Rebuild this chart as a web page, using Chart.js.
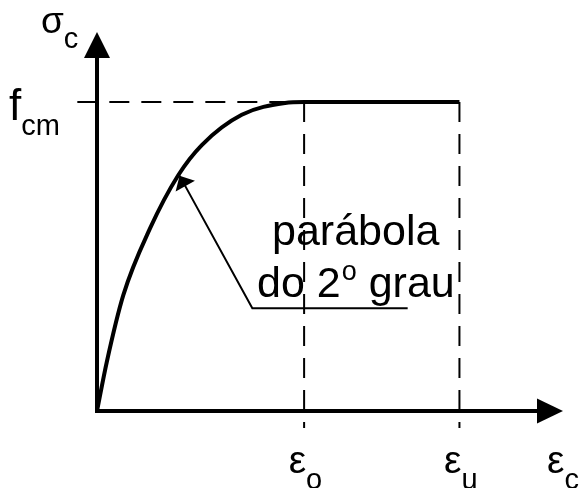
<!DOCTYPE html>
<html lang="pt">
<head>
<meta charset="utf-8">
<title>Diagrama tensão-deformação do concreto</title>
<script src="https://cdn.jsdelivr.net/npm/chart.js@4.4.1/dist/chart.umd.min.js"></script>
<style>
    body { margin: 0; background: #fff; }
    #caixa { width: 581px; height: 488px; position: relative; }
</style>
</head>
<body>
<div id="caixa"><canvas id="graficoTensao"></canvas></div>
<script>
// deformação (‰) e tensão relativa (σc / fcm) lidas ao longo da curva
const deformacoes = [0, 0.094, 0.254, 0.512, 0.786, 1.012, 1.398, 1.816, 2.0, 3.5];
const tensoes = [0, 0.158, 0.375, 0.591, 0.764, 0.861, 0.959, 0.997, 1.0, 1.0];

// marcas do eixo horizontal (εo e εu) e nível fcm
const valoresEixoX = [2.0, 3.5];
const rotulosEixoX = [['ε', 'o'], ['ε', 'u']];
const nivelFcm = 1.0;

// limites dos eixos (ponta das setas)
const fimEixoX = 4.5;
const fimEixoY = 1.227;

// linha de chamada da legenda "parábola do 2º grau"
const chamadaX = [3.0, 1.5, 0.797];
const chamadaY = [0.333, 0.333, 0.762];

const FONTE = '"Liberation Sans", Arial, sans-serif';

function pontos(xs, ys) {
    return xs.map((x, i) => ({ x: x, y: ys[i] }));
}

// desenha uma seta preenchida com ponta em (px, py) apontando na direção (dx, dy)
function seta(ctx, px, py, dx, dy, comp, larg) {
    const n = Math.hypot(dx, dy);
    dx /= n; dy /= n;
    const bx = px - dx * comp, by = py - dy * comp;
    ctx.beginPath();
    ctx.moveTo(px, py);
    ctx.lineTo(bx - dy * larg / 2, by + dx * larg / 2);
    ctx.lineTo(bx + dy * larg / 2, by - dx * larg / 2);
    ctx.closePath();
    ctx.fill();
}

// símbolo com índice (ex.: εo)
function simbolo(ctx, base, indice, x, y, tamBase, tamInd, yInd, alinhar) {
    ctx.font = tamBase + 'px ' + FONTE;
    const wb = ctx.measureText(base).width;
    const xb = alinhar === 'right' ? x - wb : x;
    ctx.fillText(base, xb, y);
    ctx.font = tamInd + 'px ' + FONTE;
    ctx.fillText(indice, xb + wb, yInd);
}

const desenhoPlugin = {
    id: 'desenho',
    afterDatasetsDraw(chart) {
        const ctx = chart.ctx;
        const sx = chart.scales.x, sy = chart.scales.y;
        const x0 = sx.getPixelForValue(0), y0 = sy.getPixelForValue(0);
        const xFim = sx.getPixelForValue(fimEixoX), yFim = sy.getPixelForValue(fimEixoY);

        ctx.save();
        ctx.strokeStyle = '#000';
        ctx.fillStyle = '#000';

        // eixos com setas
        ctx.lineWidth = 4;
        ctx.lineJoin = 'miter';
        ctx.beginPath();
        ctx.moveTo(x0, yFim + 20);
        ctx.lineTo(x0, y0);
        ctx.lineTo(xFim - 20, y0);
        ctx.stroke();
        seta(ctx, x0, yFim, 0, -1, 26, 26);
        seta(ctx, xFim, y0, 1, 0, 26, 25);

        // ponta da linha de chamada
        const n = chamadaX.length;
        const pxA = sx.getPixelForValue(chamadaX[n - 2]), pyA = sy.getPixelForValue(chamadaY[n - 2]);
        const pxB = sx.getPixelForValue(chamadaX[n - 1]), pyB = sy.getPixelForValue(chamadaY[n - 1]);
        seta(ctx, pxB, pyB, pxB - pxA, pyB - pyA, 12, 22);

        // rótulos
        ctx.textAlign = 'left';
        ctx.textBaseline = 'alphabetic';
        simbolo(ctx, 'σ', 'c', 41, 33, 37, 29, 48);
        const yF = sy.getPixelForValue(nivelFcm);
        simbolo(ctx, 'f', 'cm', 9, yF + 18, 44, 29, yF + 33);

        valoresEixoX.forEach((v, i) => {
            const px = sx.getPixelForValue(v);
            simbolo(ctx, rotulosEixoX[i][0], rotulosEixoX[i][1], px + 2, 473, 39, 29, 489, 'right');
        });
        simbolo(ctx, 'ε', 'c', 547, 473, 39, 29, 489);

        // texto da parábola
        ctx.font = '43px ' + FONTE;
        ctx.fillText('parábola', 272, 245);
        let xt = 257;
        ctx.fillText('do 2', xt, 297);
        xt += ctx.measureText('do 2').width + 1;
        ctx.font = '27px ' + FONTE;
        ctx.fillText('o', xt, 280);
        xt += ctx.measureText('o').width;
        ctx.font = '43px ' + FONTE;
        ctx.fillText(' grau', xt, 297);

        ctx.restore();
    }
};

function tracejada(xs, ys) {
    return {
        data: pontos(xs, ys),
        showLine: true,
        borderColor: '#000',
        borderWidth: 2,
        borderDash: [20, 12],
        pointRadius: 0,
        clip: false
    };
}

const config = {
    type: 'scatter',
    data: {
        datasets: [
            tracejada([-0.19, 3.5], [nivelFcm, nivelFcm]),
            tracejada([valoresEixoX[0], valoresEixoX[0]], [nivelFcm, -0.055]),
            tracejada([valoresEixoX[1], valoresEixoX[1]], [nivelFcm, -0.055]),
            {
                // curva tensão-deformação
                data: pontos(deformacoes, tensoes),
                showLine: true,
                borderColor: '#000',
                borderWidth: 4,
                cubicInterpolationMode: 'monotone',
                pointRadius: 0,
                clip: false
            },
            {
                // linha de chamada
                data: pontos(chamadaX, chamadaY),
                showLine: true,
                borderColor: '#000',
                borderWidth: 2,
                pointRadius: 0,
                clip: false
            }
        ]
    },
    options: {
        responsive: true,
        maintainAspectRatio: false,
        animation: false,
        layout: { padding: { left: 97, right: 18, top: 32, bottom: 77 } },
        scales: {
            x: { type: 'linear', min: 0, max: fimEixoX, display: false },
            y: { type: 'linear', min: 0, max: fimEixoY, display: false }
        },
        plugins: {
            legend: { display: false },
            tooltip: { enabled: false }
        }
    },
    plugins: [desenhoPlugin]
};

new Chart(document.getElementById('graficoTensao'), config);
</script>
</body>
</html>
